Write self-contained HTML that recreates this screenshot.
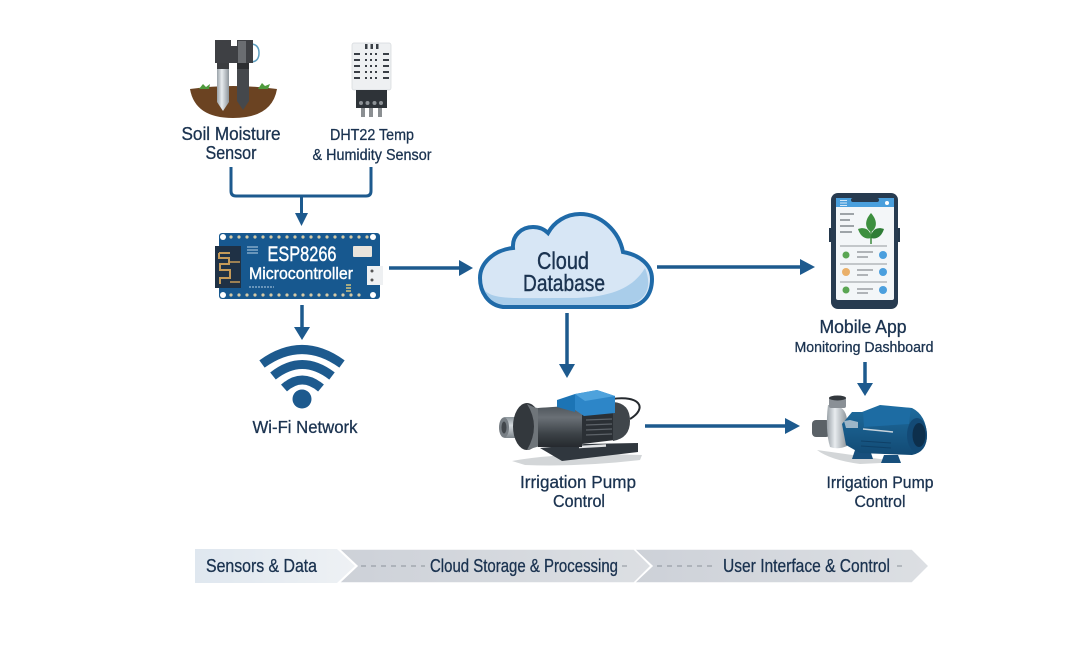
<!DOCTYPE html>
<html>
<head>
<meta charset="utf-8">
<style>
html,body{margin:0;padding:0;background:#fff;}
svg{display:block;filter:blur(.3px);}
text{font-family:"Liberation Sans",sans-serif;fill:#1b3350;text-anchor:middle;stroke:#1b3350;stroke-width:.3;}
text.w{fill:#fff;stroke:#fff;stroke-width:.4;}
</style>
</head>
<body>
<svg width="1079" height="657" viewBox="0 0 1079 657" xmlns="http://www.w3.org/2000/svg">
<defs>
<linearGradient id="steel" x1="0" x2="1" y1="0" y2="0"><stop offset="0" stop-color="#9aa2a8"/><stop offset=".4" stop-color="#e8ecef"/><stop offset="1" stop-color="#8d959b"/></linearGradient>
<linearGradient id="steelv" x1="0" x2="0" y1="0" y2="1"><stop offset="0" stop-color="#8e979d"/><stop offset=".4" stop-color="#d5dade"/><stop offset="1" stop-color="#7e868c"/></linearGradient>
<linearGradient id="mot" x1="0" x2="0" y1="0" y2="1"><stop offset="0" stop-color="#4c5359"/><stop offset=".3" stop-color="#6a7076"/><stop offset=".7" stop-color="#3b4146"/><stop offset="1" stop-color="#25292e"/></linearGradient>
<linearGradient id="blu" x1="0" x2="0" y1="0" y2="1"><stop offset="0" stop-color="#1f6d9f"/><stop offset="1" stop-color="#124a74"/></linearGradient>
<linearGradient id="ch1" x1="0" x2="1" y1="0" y2="0"><stop offset="0" stop-color="#dfe7ef"/><stop offset="1" stop-color="#eef1f4"/></linearGradient>
<linearGradient id="ch2" x1="0" x2="1" y1="0" y2="0"><stop offset="0" stop-color="#cdd1d8"/><stop offset="1" stop-color="#dcdfe3"/></linearGradient>
</defs>
<rect width="1079" height="657" fill="#fff"/>

<!-- Soil sensor -->
<path d="M190 89 Q233 83 277 89 Q272 118 233 118 Q195 118 190 89Z" fill="#6b4322"/>
<path d="M199 89l4-5 3 3 4-3-1 5zM258 89l4-6 3 3 5-2-2 5z" fill="#4f9a3c"/>
<path d="M252 44q7 1 7 9t-7 9" fill="none" stroke="#5f9fc0" stroke-width="1.500"/>
<path d="M217 68H229V102L223 111L217 102Z" fill="url(#steel)"/>
<path d="M237 68H249V101L243 110L237 101Z" fill="#45484c"/>
<rect x="217" y="63" width="12" height="6" fill="#3b3d40"/>
<rect x="237" y="63" width="12" height="6" fill="#2c2e31"/>
<path d="M215 40H231V46H237V40H253V63H215Z" fill="#3e4044"/>
<rect x="238" y="41" width="8" height="22" fill="#6a6d71"/>

<!-- DHT22 -->
<rect x="352" y="43" width="39" height="47" rx="2" fill="#eef0f2" stroke="#d5d8dc" stroke-width=".7"/>
<g fill="#3a3f46">
<rect x="365" y="44" width="2.500" height="5"/><rect x="370.500" y="44" width="2.500" height="5"/><rect x="376" y="44" width="2.500" height="5"/>
<rect x="354" y="53" width="6" height="2"/><rect x="354" y="59" width="6" height="2"/><rect x="354" y="65" width="6" height="2"/><rect x="354" y="71" width="6" height="2"/><rect x="354" y="77" width="6" height="2"/>
<rect x="383" y="53" width="6" height="2"/><rect x="383" y="59" width="6" height="2"/><rect x="383" y="65" width="6" height="2"/><rect x="383" y="71" width="6" height="2"/><rect x="383" y="77" width="6" height="2"/>
<rect x="365" y="53" width="2" height="2"/><rect x="370" y="53" width="2" height="2"/><rect x="375" y="53" width="2" height="2"/>
<rect x="365" y="59" width="2" height="2"/><rect x="370" y="59" width="2" height="2"/><rect x="375" y="59" width="2" height="2"/>
<rect x="365" y="65" width="2" height="2"/><rect x="370" y="65" width="2" height="2"/><rect x="375" y="65" width="2" height="2"/>
<rect x="365" y="71" width="2" height="2"/><rect x="370" y="71" width="2" height="2"/><rect x="375" y="71" width="2" height="2"/>
<rect x="365" y="77" width="2" height="2"/><rect x="370" y="77" width="2" height="2"/><rect x="375" y="77" width="2" height="2"/>
</g>
<rect x="356" y="90" width="31" height="18" fill="#2e3338"/>
<g fill="#8d9296"><circle cx="361" cy="103" r="2"/><circle cx="367.500" cy="103" r="2"/><circle cx="374.500" cy="103" r="2"/><circle cx="381" cy="103" r="2"/></g>
<g fill="#8b8f92"><rect x="361" y="108" width="4" height="9"/><rect x="369" y="108" width="4" height="9"/><rect x="378" y="108" width="4" height="9"/></g>

<text x="231" y="140" font-size="18" textLength="99" lengthAdjust="spacingAndGlyphs">Soil Moisture</text>
<text x="231" y="159" font-size="18" textLength="51" lengthAdjust="spacingAndGlyphs">Sensor</text>
<text x="372" y="140" font-size="16" textLength="84" lengthAdjust="spacingAndGlyphs">DHT22 Temp</text>
<text x="372" y="160" font-size="16" textLength="119" lengthAdjust="spacingAndGlyphs">&amp; Humidity Sensor</text>

<!-- Connectors -->
<g fill="none" stroke="#1d5a8e" stroke-width="3">
<path d="M231 167V191Q231 196 236 196H366Q371 196 371 191V167"/>
<path d="M301.500 196V215"/>
</g>
<path d="M295 213H308L301.500 226Z" fill="#1d5a8e"/>

<!-- ESP board -->
<rect x="219" y="233" width="161" height="66" rx="3" fill="#17588f"/>
<rect x="215" y="246" width="26" height="42" fill="#1f3145"/>
<path d="M219 253H230M219 253V258H229V264H220V270H230V278H220V284" fill="none" stroke="#c59a58" stroke-width="2"/>
<path d="M230 282H240M230 262H240" stroke="#c59a58" stroke-width="1.500" fill="none"/>
<g fill="#d4c9a5">
<circle cx="231" cy="237" r="1.600"/><circle cx="239" cy="237" r="1.600"/><circle cx="247" cy="237" r="1.600"/><circle cx="255" cy="237" r="1.600"/><circle cx="263" cy="237" r="1.600"/><circle cx="271" cy="237" r="1.600"/><circle cx="279" cy="237" r="1.600"/><circle cx="287" cy="237" r="1.600"/><circle cx="295" cy="237" r="1.600"/><circle cx="303" cy="237" r="1.600"/><circle cx="311" cy="237" r="1.600"/><circle cx="319" cy="237" r="1.600"/><circle cx="327" cy="237" r="1.600"/><circle cx="335" cy="237" r="1.600"/><circle cx="343" cy="237" r="1.600"/><circle cx="351" cy="237" r="1.600"/><circle cx="359" cy="237" r="1.600"/><circle cx="367" cy="237" r="1.600"/>
<circle cx="231" cy="295" r="1.600"/><circle cx="239" cy="295" r="1.600"/><circle cx="247" cy="295" r="1.600"/><circle cx="255" cy="295" r="1.600"/><circle cx="263" cy="295" r="1.600"/><circle cx="271" cy="295" r="1.600"/><circle cx="279" cy="295" r="1.600"/><circle cx="287" cy="295" r="1.600"/><circle cx="295" cy="295" r="1.600"/><circle cx="303" cy="295" r="1.600"/><circle cx="311" cy="295" r="1.600"/><circle cx="319" cy="295" r="1.600"/><circle cx="327" cy="295" r="1.600"/><circle cx="335" cy="295" r="1.600"/><circle cx="343" cy="295" r="1.600"/><circle cx="351" cy="295" r="1.600"/><circle cx="359" cy="295" r="1.600"/>
</g>
<g fill="#fff"><circle cx="223" cy="237" r="3"/><circle cx="373" cy="237" r="3"/><circle cx="223" cy="295" r="3"/><circle cx="373" cy="295" r="3"/></g>
<rect x="353" y="246" width="19" height="11" rx="1" fill="#e9e4dc"/>
<rect x="367" y="266" width="16" height="19" fill="#eef0f2"/>
<circle cx="372" cy="271" r="1.500" fill="#555"/><circle cx="372" cy="280" r="1.500" fill="#555"/>
<path d="M247 247h11M247 250h11M247 253h11" stroke="#b8d2e6" stroke-width="1"/>
<path d="M249 287h25" stroke="#b8d2e6" stroke-width="1" stroke-dasharray="2 1"/>
<path d="M346 285h5M346 288h5M346 291h5" stroke="#d3c47f" stroke-width="1.500"/>
<text class="w" x="302" y="261" font-size="21" textLength="69" lengthAdjust="spacingAndGlyphs">ESP8266</text>
<text class="w" x="301" y="279" font-size="17" textLength="104" lengthAdjust="spacingAndGlyphs">Microcontroller</text>

<!-- Arrows -->
<g stroke="#1d5a8e" stroke-width="3.500" fill="none">
<path d="M389 268H462"/><path d="M302 305V329"/>
<path d="M657 267H802"/><path d="M567 313V366"/>
<path d="M645 426H787"/><path d="M865 362V385"/>
</g>
<g fill="#1d5a8e">
<path d="M459 260L473 268L459 276Z"/>
<path d="M294 327H310L302 340Z"/>
<path d="M800 259L815 267L800 275Z"/>
<path d="M559 364H575L567 378Z"/>
<path d="M785 418L800 426L785 434Z"/>
<path d="M857 383H873L865 396Z"/>
</g>

<!-- Wifi -->
<g fill="none" stroke="#1d5a8e" stroke-width="9">
<path d="M262 364Q302 335 342 364"/>
<path d="M273 376Q302 353 332 376"/>
<path d="M284 388Q302 372 321 388"/>
</g>
<circle cx="302" cy="399" r="9.500" fill="#1d5a8e"/>
<text x="305" y="433" font-size="17.500" textLength="105" lengthAdjust="spacingAndGlyphs">Wi-Fi Network</text>

<!-- Cloud -->
<path d="M503 307C488 305 480 292 480 278C480 263 494 250 513 248C512 235 522 227 533 227C539 227 544 229 548 233C554 222 566 214 580 214C601 214 619 231 623 252C640 255 652 265 652 279C652 295 643 306 628 307Z" fill="#d7e6f5"/>
<path d="M484 290C495 300 510 298 570 298C615 298 635 285 645 268C652 285 648 300 628 305H503C495 305 488 298 484 290Z" fill="#a9cdea"/>
<path d="M503 307C488 305 480 292 480 278C480 263 494 250 513 248C512 235 522 227 533 227C539 227 544 229 548 233C554 222 566 214 580 214C601 214 619 231 623 252C640 255 652 265 652 279C652 295 643 306 628 307Z" fill="none" stroke="#1f6aa8" stroke-width="4"/>
<text x="563" y="269" font-size="24" textLength="52" lengthAdjust="spacingAndGlyphs" style="stroke-width:.4">Cloud</text>
<text x="564" y="291" font-size="23" textLength="82" lengthAdjust="spacingAndGlyphs" style="stroke-width:.4">Database</text>

<!-- Phone -->
<rect x="829" y="228" width="3" height="14" fill="#24384c"/>
<rect x="897" y="228" width="3" height="14" fill="#24384c"/>
<rect x="831" y="193" width="67" height="116" rx="7" fill="#273b50"/>
<rect x="836" y="198" width="58" height="102" rx="2" fill="#f3f6f8"/>
<path d="M836 198H894V207H836Z" fill="#4a9fdc"/>
<rect x="851" y="198" width="28" height="4" rx="2" fill="#273b50"/>
<path d="M840 200.500h7M840 203h7M840 205.500h7" stroke="#fff" stroke-width=".7"/><circle cx="887" cy="203" r="2" fill="#fff"/>
<path d="M840 214h14M840 220h10M840 226h14M840 232h12" stroke="#6c7378" stroke-width="1.300"/>
<path d="M871 244V226" stroke="#3c8a3e" stroke-width="1.500"/>
<path d="M871 213C878 221 877 228 871 232C865 228 864 221 871 213Z" fill="#3d8f3f"/>
<path d="M858 229C866 226 871 231 871 238C864 240 860 235 858 229Z" fill="#3d8f3f"/>
<path d="M884 229C876 226 871 231 871 238C878 240 882 235 884 229Z" fill="#2f7d36"/>
<path d="M840 246h47M840 264h47M840 282h47" stroke="#a6abaf" stroke-width="1.300"/>
<path d="M857 252h16M857 257h11M857 270h16M857 275h11M857 289h16M857 293h11" stroke="#6c7378" stroke-width="1"/>
<circle cx="846" cy="255" r="3.500" fill="#5aa653"/><circle cx="846" cy="272" r="4" fill="#eab06a"/><circle cx="846" cy="290" r="3.500" fill="#5aa653"/>
<circle cx="883" cy="255" r="4" fill="#4b9fde"/><circle cx="883" cy="272" r="4" fill="#4b9fde"/><circle cx="883" cy="290" r="4" fill="#4b9fde"/>

<text x="863" y="333" font-size="18" textLength="87" lengthAdjust="spacingAndGlyphs">Mobile App</text>
<text x="864" y="352" font-size="15" textLength="139" lengthAdjust="spacingAndGlyphs">Monitoring Dashboard</text>

<!-- Left pump -->
<path d="M512 461Q560 452 642 455L640 460Q580 467 525 465Z" fill="#d3d6d8"/>
<path d="M612 399C640 395 648 408 630 419" fill="none" stroke="#25292e" stroke-width="2"/>
<path d="M540 448L585 444L638 443V452L562 461Z" fill="#30373e"/>
<path d="M579 447l27-1.500" stroke="#e2e4e6" stroke-width="2.500"/>
<rect x="502" y="417" width="26" height="21" rx="3" fill="url(#steelv)"/>
<ellipse cx="504" cy="427.500" rx="5" ry="10" fill="#777e84"/>
<ellipse cx="504" cy="427.500" rx="2.500" ry="6" fill="#42474c"/>
<ellipse cx="527" cy="426.500" rx="14" ry="23.500" fill="#33383d"/>
<path d="M527 404Q535 408 538 408L582 406V447L540 446Q533 448 527 450Q541 426 527 404Z" fill="#6f757a"/>
<path d="M538 408L582 405V447L538 447Z" fill="url(#mot)"/>
<path d="M582 413L615 412V440L582 444Z" fill="#2b3035"/>
<path d="M586 420l26-1M586 425l26-1M586 430l26-1M586 435l26-1" stroke="#5d6369" stroke-width="1.300"/>
<path d="M613 402Q630 403 630 421Q630 438 613 441Z" fill="#40464b"/>
<path d="M557 400L575 394V412L557 407Z" fill="#1c74b5"/>
<path d="M575 394L597 390L615 396V413L584 416L575 410Z" fill="#2d86c8"/>
<path d="M575 394L597 390L615 396L585 401Z" fill="#4ea2dc"/>
<text x="578" y="488" font-size="17.500" textLength="116" lengthAdjust="spacingAndGlyphs">Irrigation Pump</text>
<text x="579" y="507" font-size="17.500" textLength="52" lengthAdjust="spacingAndGlyphs">Control</text>

<!-- Right pump -->
<path d="M817 450Q860 456 900 462L860 464Q830 460 817 450Z" fill="#d3d6d8"/>
<path d="M855 450h15l3 9h-21zM884 455h14l3 8h-20z" fill="#174f7c"/>
<rect x="812" y="420" width="18" height="17" rx="4" fill="#5b6267"/>
<path d="M828 405Q846 404 847 420V446Q838 450 830 447Q825 430 828 405Z" fill="url(#steel)"/>
<rect x="829" y="397" width="17" height="11" rx="2" fill="#8a9096"/>
<ellipse cx="837.500" cy="398" rx="8.500" ry="2.500" fill="#33383d"/>
<path d="M842 424L852 412L862 412L880 405L912 408Q926 415 927 435Q927 452 912 455L860 453L846 445Z" fill="url(#blu)"/>
<path d="M863 412L880 406L911 408L909 424L864 427Z" fill="#1d6ca3"/>
<path d="M844 421L850 420L858 422V428L846 428Z" fill="#9db6c8"/>
<ellipse cx="917" cy="435" rx="10" ry="17" fill="#134a76"/>
<ellipse cx="919" cy="435" rx="6.500" ry="12" fill="#0d2f4c"/>
<path d="M863 429l30 3" stroke="#c7d3dc" stroke-width="1.500"/>
<path d="M861 441l30 2M861 446l30 2" stroke="#0f4067" stroke-width="1"/>
<text x="880" y="488" font-size="17" textLength="107" lengthAdjust="spacingAndGlyphs">Irrigation Pump</text>
<text x="880" y="507" font-size="17" textLength="51" lengthAdjust="spacingAndGlyphs">Control</text>

<!-- Bottom bar -->
<path d="M634 549H912L929 566L912 583H634L652 566Z" fill="url(#ch2)" stroke="#fff" stroke-width="1.500"/>
<path d="M339 549H634L651 566L634 583H339L357 566Z" fill="url(#ch2)" stroke="#fff" stroke-width="1.500"/>
<path d="M195 549H337L355 566L337 583H195Z" fill="url(#ch1)"/>
<text x="261.500" y="572" font-size="18" textLength="111" lengthAdjust="spacingAndGlyphs">Sensors &amp; Data</text>
<text x="524" y="572" font-size="18" textLength="188" lengthAdjust="spacingAndGlyphs">Cloud Storage &amp; Processing</text>
<text x="806.500" y="572" font-size="18" textLength="167" lengthAdjust="spacingAndGlyphs">User Interface &amp; Control</text>
<g stroke="#8b929a" stroke-width="1" stroke-dasharray="5 5" fill="none">
<path d="M361 566H425M622 566H628M657 566H715M897 566H903"/>
</g>
</svg>
</body>
</html>
